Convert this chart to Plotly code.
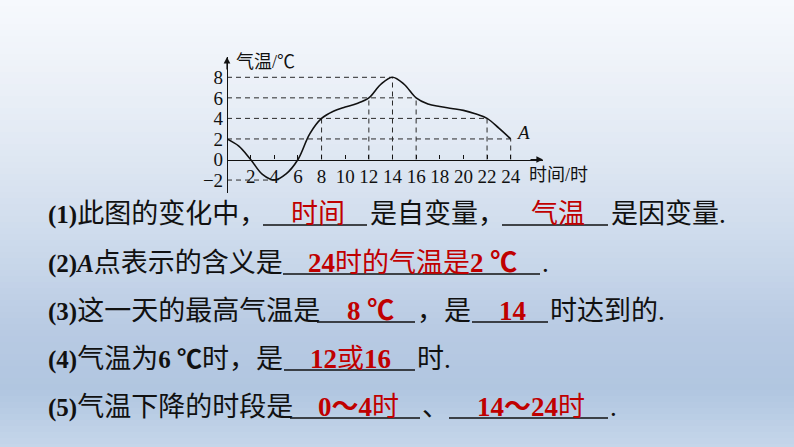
import plotly.graph_objects as go

# ---------------- data ----------------
hours = list(range(0, 25))
temps = [2, 1.3, 0, -1.45, -2, -1.4, 0, 2.5, 4, 4.7, 5.1, 5.45, 6, 7.3, 8,
         7.3, 6, 5.4, 5.15, 4.97, 4.78, 4.45, 4, 3.05, 2]
x_ticks = [2, 4, 6, 8, 10, 12, 14, 16, 18, 20, 22, 24]
y_ticks = [-2, 0, 2, 4, 6, 8]
guide_hours = [4, 8, 12, 14, 16, 22, 24]
guide_temps = [-2, 4, 6, 8, 6, 4, 2]
x_title = "时间/时"
y_title = "气温/℃"
point_label = "A"

W, H = 794, 447
def PX(px):
    return px / W
def PY(py):
    return 1 - py / H

# axis geometry (pixels)
x0_px, x24_px, xend_px = 227, 510.7, 543
y0_px, y8_px, ytop_px, ybot_px = 159.5, 77.3, 57, 193
sx = (x24_px - x0_px) / 24
sy = (y0_px - y8_px) / 8
x_max = (xend_px - x0_px) / sx
y_max = (y0_px - ytop_px) / sy
y_min = (y0_px - ybot_px) / sy

fig = go.Figure()

# dashed guides derived from the key points
hmax = {}
for h, t in zip(guide_hours, guide_temps):
    hmax[t] = max(hmax.get(t, 0), h)
gx, gy = [], []
for t, h in hmax.items():
    gx += [0, h, None]
    gy += [t, t, None]
for h, t in zip(guide_hours, guide_temps):
    if t > 0:
        gx += [h, h, None]
        gy += [0, t, None]
fig.add_trace(go.Scatter(x=gx, y=gy, mode="lines",
                         line=dict(color="#2a2a2a", width=1, dash="5px,4px"),
                         hoverinfo="skip", showlegend=False))

fig.add_trace(go.Scatter(x=hours, y=temps, mode="lines",
                         line=dict(color="#111111", width=1.6, shape="spline", smoothing=1.0),
                         hoverinfo="skip", showlegend=False))

tick_font = dict(family="Liberation Serif, Times New Roman, serif", size=19, color="#111")

fig.update_layout(
    width=W, height=H,
    margin=dict(l=0, r=0, t=0, b=0),
    paper_bgcolor="#e4ebf5",
    plot_bgcolor="rgba(0,0,0,0)",
    showlegend=False,
    xaxis=dict(domain=[PX(x0_px), PX(xend_px)], range=[0, x_max],
               anchor="free", position=PY(y0_px),
               showline=True, linecolor="#111", linewidth=1.2,
               tickvals=x_ticks, ticks="inside", ticklen=4, tickcolor="#111",
               tickfont=tick_font, showgrid=False, zeroline=False),
    yaxis=dict(domain=[PY(ybot_px), PY(ytop_px)], range=[y_min, y_max],
               anchor="free", position=PX(x0_px),
               showline=True, linecolor="#111", linewidth=1.2,
               tickvals=y_ticks, ticks="", tickfont=tick_font,
               showgrid=False, zeroline=False),
)

# background gradient
stops = [(0, (246, 249, 253)), (60, (239, 243, 249)), (150, (224, 232, 243)),
         (250, (203, 217, 235)), (330, (184, 202, 227)), (390, (177, 198, 224)),
         (447, (197, 214, 234))]
def col_at(py):
    for (a, ca), (b, cb) in zip(stops[:-1], stops[1:]):
        if a <= py <= b:
            f = (py - a) / (b - a)
            return "rgb(%d,%d,%d)" % tuple(round(ca[i] + (cb[i] - ca[i]) * f) for i in range(3))
    return "rgb(%d,%d,%d)" % stops[-1][1]
shapes = []
step = 6
for py in range(0, H, step):
    shapes.append(dict(type="rect", xref="paper", yref="paper", x0=0, x1=1,
                       y0=PY(min(py + step + 1, H)), y1=PY(py), layer="below",
                       line=dict(width=0), fillcolor=col_at(py + step / 2)))

# axis arrows
ann = []
ann.append(dict(x=x_max, y=0, xref="x", yref="y", ax=-14, ay=0, text="", showarrow=True,
                arrowhead=2, arrowsize=1.1, arrowwidth=1.2, arrowcolor="#111"))
ann.append(dict(x=0, y=y_max, xref="x", yref="y", ax=0, ay=14, text="", showarrow=True,
                arrowhead=2, arrowsize=1.1, arrowwidth=1.2, arrowcolor="#111"))

cjk = "Liberation Serif, Noto Sans CJK SC, serif"
ann.append(dict(x=PX(234), y=PY(62), xref="paper", yref="paper", text=y_title,
                showarrow=False, xanchor="left", yanchor="middle",
                font=dict(family=cjk, size=18, color="#111")))
ann.append(dict(x=PX(527), y=PY(175), xref="paper", yref="paper", text=x_title,
                showarrow=False, xanchor="left", yanchor="middle",
                font=dict(family=cjk, size=18, color="#111")))
ann.append(dict(x=hours[-1], y=temps[-1], xref="x", yref="y", text="<i>%s</i>" % point_label,
                showarrow=False, xanchor="left", yanchor="bottom", xshift=3, yshift=-6,
                font=dict(family="Liberation Serif, serif", size=19, color="#111")))

# question text
BLACK = "#111111"
RED = "#c00000"
FS = 27
def num(s):
    return "<span style='font-size:25px'><b>%s</b></span>" % s
def txt(px, py, s, color=BLACK, anchor="left"):
    ann.append(dict(x=PX(px), y=PY(py), xref="paper", yref="paper", text=s,
                    showarrow=False, xanchor=anchor, yanchor="middle",
                    font=dict(family=cjk, size=FS, color=color)))
def blank(x0, x1, py):
    shapes.append(dict(type="line", xref="paper", yref="paper", x0=PX(x0), x1=PX(x1),
                       y0=PY(py), y1=PY(py), line=dict(color=BLACK, width=1.3)))

lines_y = [214, 263, 311, 359, 407]
# (1)
ly = lines_y[0]
txt(46, ly, num("(1)") + "此图的变化中，")
blank(263, 367, ly + 11); txt(318, ly, "时间", RED, "center")
txt(368, ly, "是自变量，")
blank(502, 608, ly + 11); txt(558, ly, "气温", RED, "center")
txt(609, ly, "是因变量.")
# (2)
ly = lines_y[1]
txt(46, ly, num("(2)<i>A</i>") + "点表示的含义是")
blank(283, 540, ly + 11); txt(412, ly, "<b>24</b>时的气温是<b>2 ℃</b>", RED, "center")
txt(540, ly, ".")
# (3)
ly = lines_y[2]
txt(46, ly, num("(3)") + "这一天的最高气温是")
blank(317, 415, ly + 11); txt(370, ly, "<b>8 ℃</b>", RED, "center")
txt(415, ly, "，是")
blank(472, 548, ly + 11); txt(512, ly, "<b>14</b>", RED, "center")
txt(548, ly, "时达到的.")
# (4)
ly = lines_y[3]
txt(46, ly, num("(4)") + "气温为" + num("6 ℃") + "时，是")
blank(284, 415, ly + 11); txt(350, ly, "<b>12</b>或<b>16</b>", RED, "center")
txt(415, ly, "时.")
# (5)
ly = lines_y[4]
txt(46, ly, num("(5)") + "气温下降的时段是")
blank(290, 420, ly + 11); txt(358, ly, "<b>0～4</b>时", RED, "center")
txt(420, ly, "、")
blank(449, 608, ly + 11); txt(531, ly, "<b>14～24</b>时", RED, "center")
txt(608, ly, ".")

fig.update_layout(shapes=shapes, annotations=ann)
fig.write_html("out.html", config={"displayModeBar": False},
               post_script="document.body.style.margin='0';document.body.style.overflow='hidden';")
